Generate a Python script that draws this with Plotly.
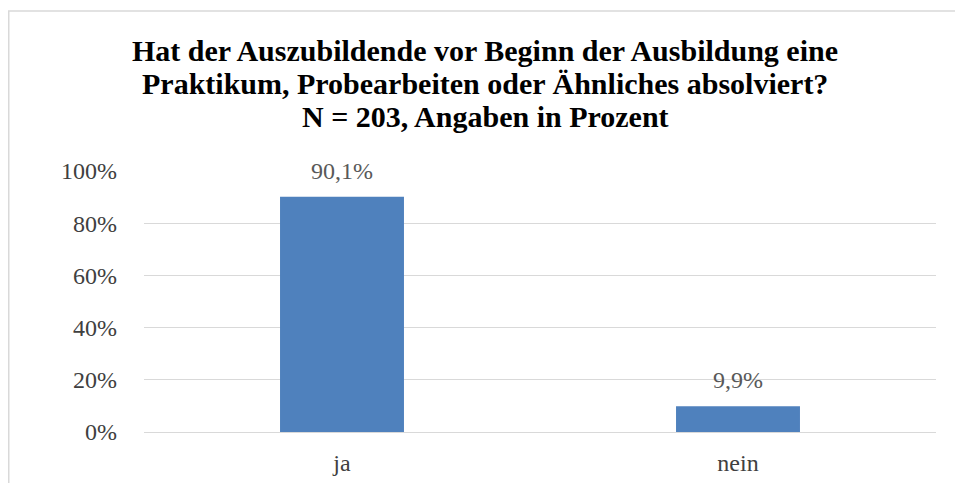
import plotly.graph_objects as go

categories = ["ja", "nein"]
values = [90.1, 9.9]
tick_vals = [0, 20, 40, 60, 80, 100]
tick_text = ["0%", "20%", "40%", "60%", "80%", "100%"]
title_lines = [
    "Hat der Auszubildende vor Beginn der Ausbildung eine",
    "Praktikum, Probearbeiten oder Ähnliches absolviert?",
    "N = 203, Angaben in Prozent",
]

SERIF = "Liberation Serif, Times New Roman, serif"

# page body has an 8px margin, so the figure is sized/offset to compensate
W, H = 955, 475
L, R, T, B = 136, 27, 163, 51
PH = H - T - B  # plot height in px


def paper_y(y_view):
    return (H - B - (y_view - 8)) / PH


def paper_x(x_view):
    return (x_view - 8 - L) / (W - L - R)


fig = go.Figure()
fig.add_trace(go.Bar(
    x=categories, y=values,
    marker=dict(color="#4F81BD", line=dict(width=0)),
    width=0.313,
    hoverinfo="x+y",
))

annotations = []
for c, v in zip(categories, values):
    annotations.append(dict(
        x=c, y=v, xref="x", yref="y", showarrow=False,
        text=("%.1f%%" % v).replace(".", ","),
        yanchor="middle", yshift=26,
        font=dict(family=SERIF, size=24, color="#595959"),
    ))

title_centers = [50, 83, 116]
for line, yc in zip(title_lines, title_centers):
    annotations.append(dict(
        x=paper_x(485), y=paper_y(yc), xref="paper", yref="paper",
        xanchor="center", yanchor="middle", showarrow=False,
        text="<b>%s</b>" % line,
        font=dict(family=SERIF, size=30, color="black"),
    ))

fig.update_layout(
    width=W, height=H,
    margin=dict(l=L, r=R, t=T, b=B, autoexpand=False),
    paper_bgcolor="white", plot_bgcolor="white",
    separators=",.",
    showlegend=False,
    annotations=annotations,
    xaxis=dict(
        showgrid=False, showline=False, zeroline=False, ticks="",
        ticklabelstandoff=14, automargin=False,
        tickfont=dict(family=SERIF, size=24, color="#404040"),
    ),
    yaxis=dict(
        range=[0, 100], tickmode="array", tickvals=tick_vals, ticktext=tick_text,
        showgrid=True, gridcolor="#D9D9D9", gridwidth=1,
        zeroline=True, zerolinecolor="#D9D9D9", zerolinewidth=1,
        showline=False, ticks="", ticklabelstandoff=26, automargin=False,
        tickfont=dict(family=SERIF, size=24, color="#404040"),
    ),
    shapes=[dict(
        type="rect", xref="paper", yref="paper",
        x0=paper_x(8.75), x1=paper_x(1010),
        y0=paper_y(560), y1=paper_y(11),
        line=dict(color="#D9D9D9", width=1.5), fillcolor="rgba(0,0,0,0)",
        layer="above",
    )],
)

fig.write_html("out.html")
